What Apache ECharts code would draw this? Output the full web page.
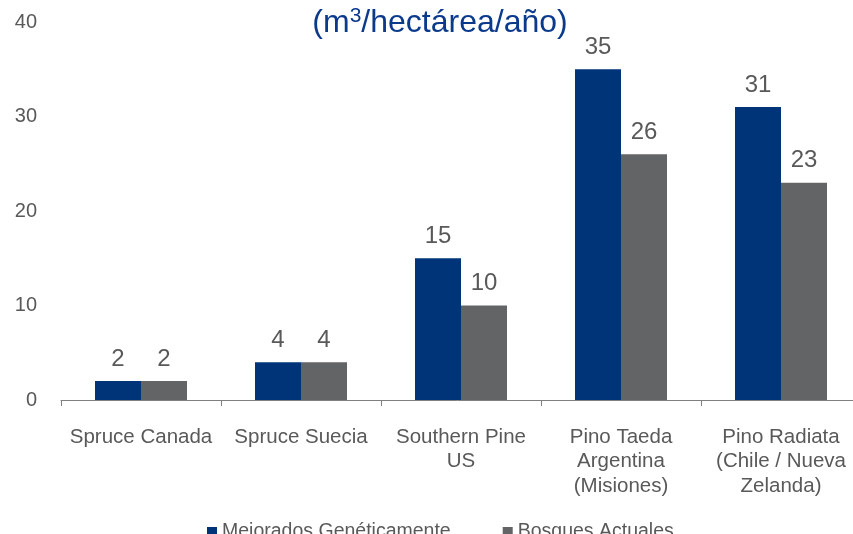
<!DOCTYPE html>
<html>
<head>
<meta charset="utf-8">
<script src="https://cdn.jsdelivr.net/npm/echarts@6/dist/echarts.min.js"></script>
<style>html,body{margin:0;padding:0;background:#fff;}#c{width:853px;height:534px;}</style>
</head>
<body>
<div id="c"></div>
<script>
const categories = ['Spruce Canada', 'Spruce Suecia', 'Southern Pine\nUS', 'Pino Taeda\nArgentina\n(Misiones)', 'Pino Radiata\n(Chile / Nueva\nZelanda)'];
const mejorados = [2, 4, 15, 35, 31];
const actuales = [2, 4, 10, 26, 23];
const seriesNames = ['Mejorados Genéticamente', 'Bosques Actuales'];
const titleParts = ['(m', '3', '/hectárea/año)'];

const chart = echarts.init(document.getElementById('c'));
const font = 'Liberation Sans, Arial, sans-serif';
chart.setOption({
  animation: false,
  title: {
    text: '{a|' + titleParts[0] + '}{s|' + titleParts[1] + '}{a|' + titleParts[2] + '}',
    left: 435, top: 1, textAlign: 'center',
    textStyle: {
      fontWeight: 'normal',
      rich: {
        a: { fontFamily: font, fontSize: 32, fontWeight: 'normal', color: '#0b3a8c', lineHeight: 35 },
        s: { fontFamily: font, fontSize: 21, fontWeight: 'normal', color: '#0b3a8c', verticalAlign: 'top', padding: [0, 0, 12, 0], lineHeight: 35 }
      }
    }
  },
  legend: {
    left: 202, top: 517, itemWidth: 10, itemHeight: 10, itemGap: 52,
    icon: 'rect',
    textStyle: { fontFamily: font, fontSize: 19.5, color: '#595959' },
    data: seriesNames
  },
  grid: { left: 61, width: 800, top: 22, bottom: 134, containLabel: false, outerBoundsMode: 'none' },
  xAxis: {
    type: 'category', data: categories,
    axisLine: { lineStyle: { color: '#808080', width: 1 } },
    axisTick: { show: true, length: 6, lineStyle: { color: '#808080' } },
    axisLabel: { fontFamily: font, fontSize: 20.5, color: '#595959', lineHeight: 24.5, margin: 25, interval: 0 }
  },
  yAxis: {
    type: 'value', min: 0, max: 40, interval: 10,
    axisLine: { show: false }, axisTick: { show: false }, splitLine: { show: false },
    axisLabel: { fontFamily: font, fontSize: 20, color: '#595959', margin: 24 }
  },
  series: [
    { name: seriesNames[0], type: 'bar', data: mejorados, barWidth: 46, barGap: '0%',
      itemStyle: { color: '#003478' },
      label: { show: true, position: 'top', distance: 10, fontFamily: font, fontSize: 24, color: '#595959' } },
    { name: seriesNames[1], type: 'bar', data: actuales, barWidth: 46,
      itemStyle: { color: '#636466' },
      label: { show: true, position: 'top', distance: 10, fontFamily: font, fontSize: 24, color: '#595959' } }
  ]
});
</script>
</body>
</html>
